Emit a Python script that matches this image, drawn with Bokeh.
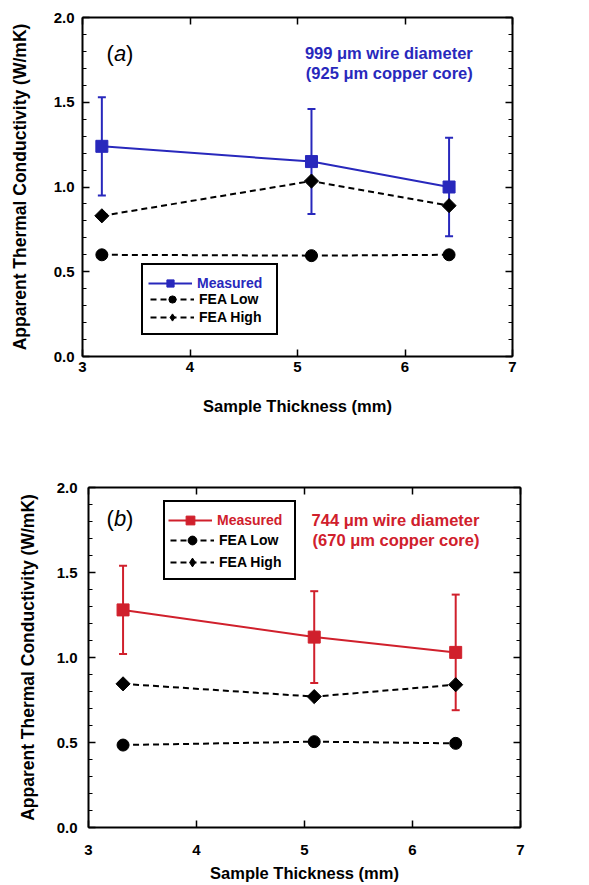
from bokeh.plotting import figure
from bokeh.models import (ColumnDataSource, Whisker, TeeHead, Legend, LegendItem,
                          LinearAxis, Label, FixedTicker, Range1d, PrintfTickFormatter)
from bokeh.embed import file_html
from bokeh.resources import INLINE

# ---------------- data ----------------
a_x_meas = [3.18, 5.13, 6.41]
a_meas = [1.24, 1.15, 1.00]
a_err = [0.29, 0.31, 0.29]
a_x_fea = [3.18, 5.13, 6.41]
a_fea_low = [0.60, 0.595, 0.60]
a_fea_high = [0.83, 1.035, 0.89]

b_x_meas = [3.32, 5.09, 6.40]
b_meas = [1.28, 1.12, 1.03]
b_err = [0.26, 0.27, 0.34]
b_x_fea = [3.32, 5.09, 6.40]
b_fea_low = [0.485, 0.505, 0.495]
b_fea_high = [0.845, 0.77, 0.84]

x_ticks = [3, 4, 5, 6, 7]
y_ticks = [0.0, 0.5, 1.0, 1.5, 2.0]
y_minor = [round(i * 0.1, 1) for i in range(21)]

BLUE = "#2828bc"
RED = "#d0202c"
FONT = "Liberation Sans"


def style_axis(ax):
    ax.axis_line_width = 2
    ax.axis_line_color = "black"
    ax.major_tick_in = 7
    ax.major_tick_out = 0
    ax.minor_tick_in = 4
    ax.minor_tick_out = 0
    ax.major_tick_line_width = 1.5
    ax.minor_tick_line_width = 1.2
    ax.major_label_text_font = FONT
    ax.major_label_text_font_style = "bold"
    ax.major_label_text_font_size = "15px"
    ax.major_label_text_color = "black"
    ax.axis_label_text_font = FONT
    ax.axis_label_text_font_style = "bold"
    ax.axis_label_text_color = "black"


def make_panel(tag, xm, ym, err, xf, low, high, color, note1, note2,
               width, height, borders, tick_standoff, label_standoff,
               note_pos, tag_pos, leg_loc, leg_pad, leg_glyph_h):
    bl, br, bt, bb = borders
    p = figure(width=width, height=height, output_backend="svg", toolbar_location=None,
               x_range=Range1d(3, 7), y_range=Range1d(0, 2),
               x_axis_location=None, y_axis_location=None,
               min_border_left=bl, min_border_right=br, min_border_top=bt,
               min_border_bottom=bb)
    p.outline_line_color = None
    p.grid.visible = False
    p.background_fill_color = "white"
    p.border_fill_color = "white"

    xt = FixedTicker(ticks=x_ticks)
    yt = FixedTicker(ticks=y_ticks, minor_ticks=y_minor)
    fmt = PrintfTickFormatter(format="%.1f")
    bottom = LinearAxis(ticker=xt, axis_label="Sample Thickness (mm)",
                        major_label_standoff=tick_standoff[0],
                        axis_label_standoff=label_standoff[0])
    left = LinearAxis(ticker=yt, formatter=fmt,
                      axis_label="Apparent Thermal Conductivity (W/mK)",
                      major_label_standoff=tick_standoff[1],
                      axis_label_standoff=label_standoff[1])
    top = LinearAxis(ticker=xt, major_label_standoff=0, axis_label=None)
    right = LinearAxis(ticker=yt, major_label_standoff=0, axis_label=None)
    for ax in (bottom, left, top, right):
        style_axis(ax)
    bottom.axis_label_text_font_size = "16.5px"
    left.axis_label_text_font_size = "17.5px"
    top.major_label_text_font_size = "0px"
    right.major_label_text_font_size = "0px"
    p.add_layout(bottom, "below")
    p.add_layout(left, "left")
    p.add_layout(top, "above")
    p.add_layout(right, "right")

    src = ColumnDataSource(dict(x=xm, y=ym,
                                upper=[v + e for v, e in zip(ym, err)],
                                lower=[v - e for v, e in zip(ym, err)]))
    fsrc = ColumnDataSource(dict(x=xf, low=low, high=high))

    hl = p.line("x", "high", source=fsrc, line_color="black", line_width=2, line_dash="6 4")
    p.scatter("x", "high", source=fsrc, marker="square", angle=0.785398, size=10,
              color="black")
    ll = p.line("x", "low", source=fsrc, line_color="black", line_width=2, line_dash="6 4")
    ls = p.scatter("x", "low", source=fsrc, marker="circle", size=12, color="black")

    wh = Whisker(base="x", upper="upper", lower="lower", source=src,
                 line_color=color, line_width=2,
                 upper_head=TeeHead(size=8, line_color=color, line_width=2),
                 lower_head=TeeHead(size=8, line_color=color, line_width=2))
    p.add_layout(wh)
    ml = p.line("x", "y", source=src, line_color=color, line_width=2)
    ms = p.scatter("x", "y", source=src, marker="square", size=12, color=color)

    # diamond swatch for the legend (zero size in the plot itself)
    hd_leg = p.scatter("x", "high", source=fsrc, marker="diamond", size=0, color="black")

    common = dict(glyph_width=44, glyph_height=leg_glyph_h, label_standoff=5,
                  label_text_font=FONT, label_text_font_style="bold",
                  label_text_font_size="14px", label_height=leg_glyph_h, margin=0)
    leg = Legend(items=[LegendItem(label=" ", renderers=[ml, ms]),
                        LegendItem(label="FEA Low", renderers=[ll, ls]),
                        LegendItem(label="FEA High", renderers=[hl, hd_leg])],
                 location=leg_loc, padding=leg_pad, spacing=0,
                 label_text_color="black", label_width=70,
                 border_line_color="black", border_line_width=2, border_line_alpha=1,
                 background_fill_color="white", background_fill_alpha=1, **common)
    p.add_layout(leg)
    # coloured first row drawn over the boxed legend
    total_h = 2 * leg_pad + 3 * leg_glyph_h
    ov = Legend(items=[LegendItem(label="Measured", renderers=[ml, ms])],
                location=(leg_loc[0] + leg_pad, leg_loc[1] + total_h - leg_pad - leg_glyph_h),
                padding=0, spacing=0, label_text_color=color,
                border_line_alpha=0, background_fill_color="white", background_fill_alpha=1,
                **common)
    p.add_layout(ov)

    nx, ny1, ny2 = note_pos
    for txt, yy in ((note1, ny1), (note2, ny2)):
        p.add_layout(Label(x=nx, y=yy, text=txt, text_align="right", text_baseline="middle",
                           text_font=FONT, text_font_style="bold", text_font_size="16.5px",
                           text_color=color))
    tx, ty = tag_pos
    for txt, off, sty in (("(", 0, "normal"), (tag, 7.5, "italic"), (")", 19.5, "normal")):
        p.add_layout(Label(x=tx, y=ty, x_offset=off, text=txt, text_align="left",
                           text_baseline="middle", text_font=FONT, text_font_style=sty,
                           text_font_size="22px", text_color="black"))
    return p


p1 = make_panel("a", a_x_meas, a_meas, a_err, a_x_fea, a_fea_low, a_fea_high, BLUE,
                "999 \u03bcm wire diameter", "(925 \u03bcm copper core)",
                589, 430, (82, 77, 17, 74), (5, 8), (22, 21),
                (6.63, 1.79, 1.675), (3.224, 1.79), (59, 21), 7, 18)
p2 = make_panel("b", b_x_meas, b_meas, b_err, b_x_fea, b_fea_low, b_fea_high, RED,
                "744 \u03bcm wire diameter", "(670 \u03bcm copper core)",
                589, 455, (88, 69, 57, 58), (17, 11), (6, 16),
                (6.62, 1.806, 1.694), (3.167, 1.82), (75, 247), 5, 22)

open("out.html", "w").write(file_html([p1, p2], INLINE))
